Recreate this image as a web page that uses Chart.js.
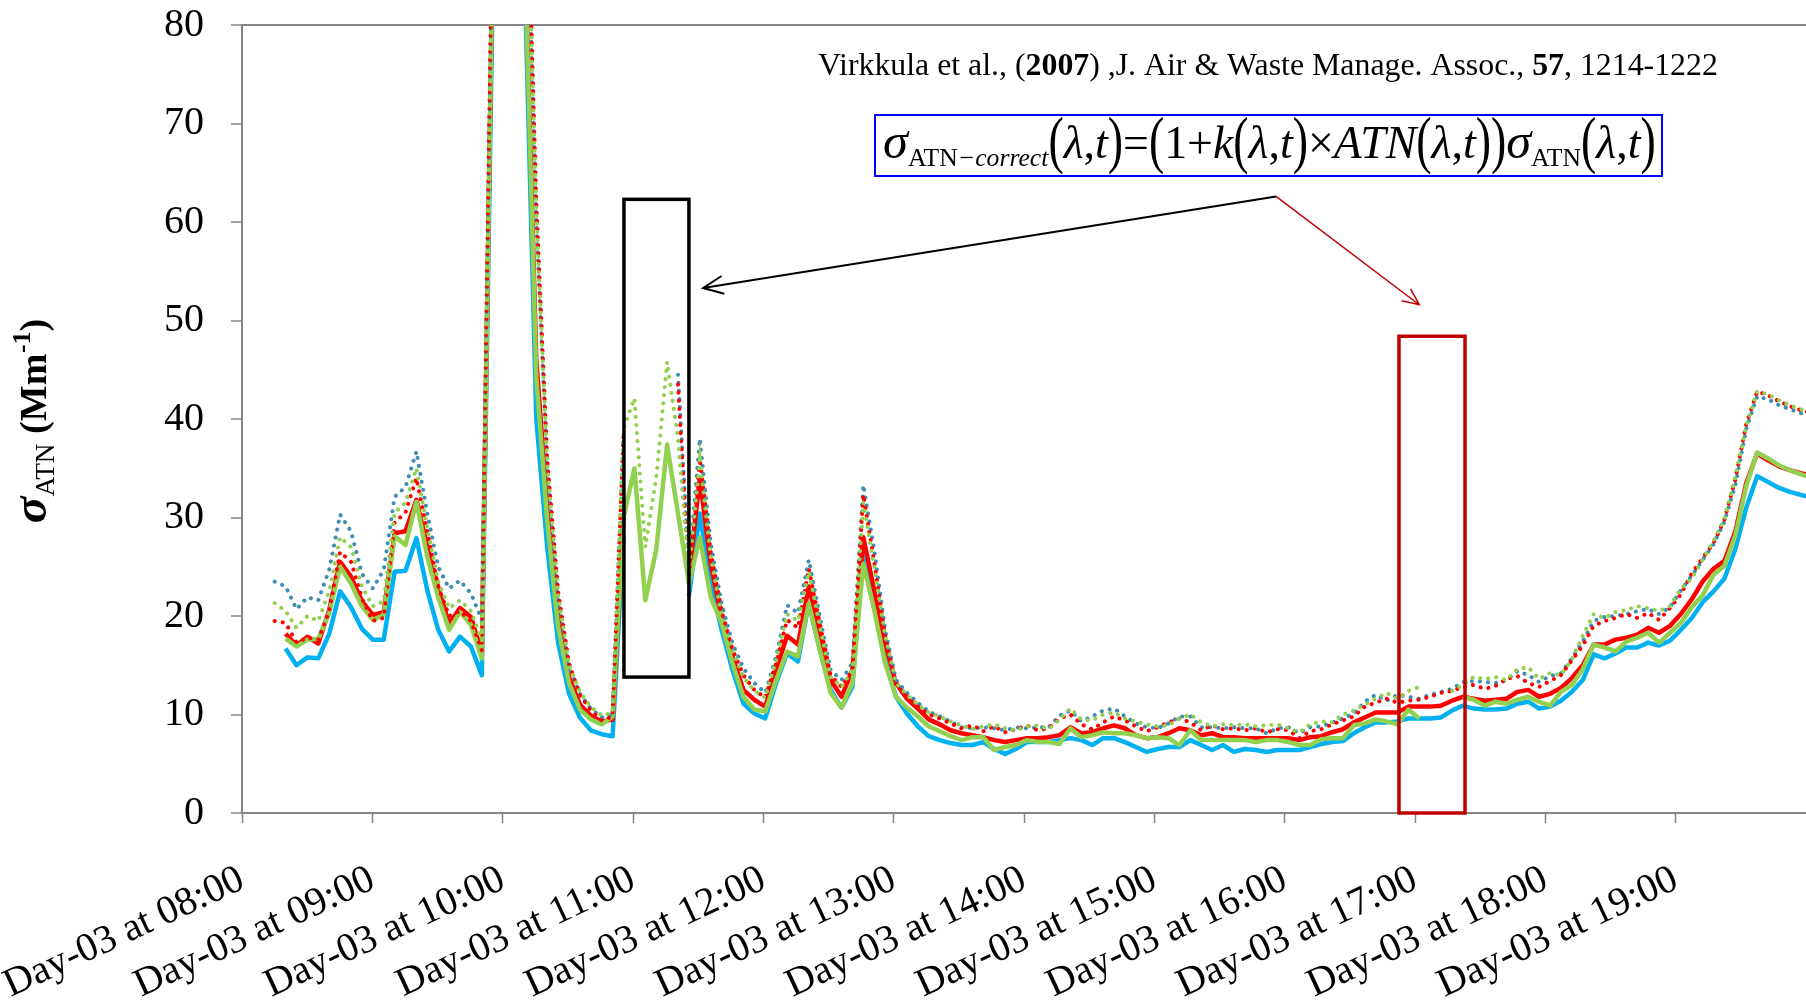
<!DOCTYPE html>
<html>
<head>
<meta charset="utf-8">
<script src="https://cdn.jsdelivr.net/npm/chart.js@4.4.0/dist/chart.umd.min.js"></script>
<style>
html, body { margin: 0; padding: 0; background: #fff; overflow: hidden; }
canvas { display: block; }
</style>
</head>
<body>
<canvas id="atnChart" width="1806" height="1006"></canvas>
<script>
// Sampling grid: minutes after 08:00, one value every 5 min
const minutes = [];
for (let m = 15; m <= 720; m += 5) minutes.push(m);

const tickLabels = ['Day-03 at 08:00', 'Day-03 at 09:00', 'Day-03 at 10:00', 'Day-03 at 11:00',
    'Day-03 at 12:00', 'Day-03 at 13:00', 'Day-03 at 14:00', 'Day-03 at 15:00',
    'Day-03 at 16:00', 'Day-03 at 17:00', 'Day-03 at 18:00', 'Day-03 at 19:00'];

// Solid lines
const blueSolid = [
    null, 16.7, 15.0, 15.8, 15.7, 18.2, 22.5, 20.9, 18.7, 17.6, 17.6, 24.5, 24.6, 27.9, 22.6, 18.6, 16.4, 17.9, 16.9, 14.0,
    84, 150, 135, 82, 40, 27, 17.3, 12.1, 9.7, 8.4, 8.0, 7.8,
    28, null, null, null, null, null, 22,
    30.4, 23.3, 18.6, 14.5, 11.1, 10.1, 9.6, 13.2, 16.2, 15.4, 21.3, 16.6, 12.5, 10.7, 12.8, 27.0, 21.3, 15.5, 11.8, 10.1, 8.8, 7.8, 7.4, 7.1,
    6.9, 6.9, 7.2, 6.5, 6.0, 6.5, 7.2, 7.2, 7.2, 7.4, 7.6, 7.4, 6.9, 7.6, 7.6, 7.2, 6.7, 6.2, 6.5, 6.7, 6.7, 7.4, 6.9, 6.4, 6.9, 6.2, 6.5, 6.4, 6.2, 6.4, 6.4, 6.4,
    6.7, 7.0, 7.2, 7.3, 8.1, 8.7, 9.2, 9.2, 9.3, 9.6, 9.6, 9.6, 9.7, 10.4, 10.9, 10.6, 10.5, 10.5, 10.6, 11.1, 11.3, 10.6, 10.8, 11.4,
    12.3, 13.5, 16.1, 15.7, 16.2, 16.8, 16.8, 17.3, 17.0, 17.5, 18.6, 19.8, 21.4, 22.5, 23.8, 26.8, 31.0, 34.2, 33.6, 33.0, 32.6, 32.3, 32.0
];
const redSolid = [
    null, 18.2, 17.0, 17.9, 17.2, 20.6, 25.5, 24.0, 21.5, 20.1, 20.4, 28.4, 28.6, 31.8, 27.0, 22.9, 19.2, 20.8, 19.9, 16.2,
    88, 150, 135, 86, 46, 31, 20, 13.8, 11.0, 9.9, 9.3, 9.5,
    30, null, null, null, null, null, 24,
    34.0, 25.3, 19.9, 15.9, 12.5, 11.5, 10.8, 14.5, 18.0, 17.1, 23.0, 18.3, 13.5, 11.8, 14.5, 28.0, 22.6, 17.2, 13.2, 11.6, 10.6, 9.5, 9.0, 8.4,
    8.1, 7.9, 7.7, 7.4, 7.2, 7.4, 7.6, 7.6, 7.7, 7.9, 8.7, 8.1, 8.2, 8.6, 8.9, 8.6, 7.9, 7.6, 7.7, 8.1, 8.6, 8.4, 7.9, 8.1, 7.7, 7.7, 7.6, 7.6, 7.6, 7.6, 7.6, 7.4,
    7.7, 7.8, 8.2, 8.5, 9.2, 9.7, 10.2, 10.2, 10.2, 10.8, 10.8, 10.8, 10.9, 11.4, 11.8, 11.6, 11.4, 11.5, 11.6, 12.3, 12.5, 11.8, 12.1, 12.7,
    13.7, 15.0, 17.1, 17.1, 17.6, 17.8, 18.1, 18.8, 18.3, 19.0, 20.2, 21.7, 23.5, 24.8, 25.6, 28.6, 33.5, 36.5, 35.8, 35.2, 34.8, 34.5, 34.2
];
const greenSolid = [
    null, 17.7, 16.9, 17.6, 17.7, 20.3, 25.0, 23.3, 21.0, 19.6, 20.1, 28.1, 27.2, 31.6, 26.0, 21.9, 18.6, 20.4, 19.1, 15.7,
    88, 150, 135, 85, 44.2, 29.7, 18.9, 13.2, 10.5, 9.5, 9.0, 9.8,
    30, 35.0, 21.6, 26.7, 37.4, 30.4, 23.3,
    28.0, 21.9, 19.3, 15.2, 11.8, 10.5, 10.3, 13.5, 16.4, 15.9, 21.3, 16.6, 12.2, 10.7, 13.2, 25.3, 20.6, 15.2, 11.8, 10.7, 9.8, 8.8, 8.3, 7.8,
    7.4, 7.7, 7.7, 6.4, 6.7, 6.9, 7.4, 7.2, 7.2, 7.0, 8.6, 7.7, 7.9, 8.2, 8.1, 8.1, 7.9, 7.6, 7.7, 7.6, 6.9, 8.4, 7.4, 7.4, 7.4, 7.4, 7.4, 7.2, 7.4, 7.4, 7.2, 6.9,
    6.9, 7.5, 7.6, 7.6, 8.9, 9.1, 9.5, 9.3, 9.0, 10.5, 9.6, null, null, null, 11.8, 11.5, 10.9, 11.3, 11.1, 11.5, 11.8, 11.3, 10.9, 12.3,
    13.0, 14.6, 17.1, 16.8, 16.4, 17.4, 17.8, 18.3, 17.3, 18.3, 19.3, 20.9, 22.1, 24.2, 25.1, 28.2, 33.2, 36.6, 36.0, 35.3, 34.8, 34.4, 34.0
];

// Dotted lines
const blueDotted = [
    23.5, 23.0, 20.7, 21.9, 21.6, 24.7, 30.3, 28.6, 24.3, 22.8, 24.7, 32.1, 33.1, 36.7, 30.4, 25.0, 22.8, 23.6, 22.3, 19.6,
    92, 155, 140, 100, 60, 35.1, 21.9, 14.8, 12.1, 10.6, 9.7, 10.0,
    38, null, null, null, null, 44.5, 25,
    38.0, 27.4, 21.3, 17.2, 14.7, 13.2, 12.2, 15.9, 21.1, 20.3, 25.7, 20.0, 14.5, 13.5, 15.2, 33.3, 26.7, 18.6, 13.5, 12.2, 11.2, 10.3, 9.8, 9.3,
    8.7, 8.6, 8.7, 8.6, 8.4, 8.7, 8.6, 8.7, 8.7, 9.9, 10.4, 9.3, 9.8, 10.4, 10.6, 9.8, 9.1, 8.7, 8.6, 9.1, 9.8, 9.8, 8.7, 8.7, 8.6, 8.7, 8.6, 8.6, 8.1, 8.6, 8.7, 8.1,
    8.7, 8.8, 9.2, 9.6, 10.1, 11.3, 12.0, 11.4, 12.0, 11.8, 11.6, 12.0, 12.3, 12.6, 13.3, 13.4, 13.3, 13.2, 13.5, 14.4, 14.0, 13.3, 13.9, 14.2,
    15.7, 17.4, 19.5, 19.9, 20.0, 20.2, 20.5, 20.7, 20.2, 20.9, 22.6, 24.1, 25.7, 27.3, 29.6, 33.3, 39.0, 42.3, 42.0, 41.4, 41.0, 40.6, 40.2
];
const redDotted = [
    19.5, 19.3, 17.3, 17.8, 17.6, 20.5, 26.5, 25.5, 21.8, 19.5, 19.8, 29.5, 30.5, 34.0, 28.5, 23.0, 20.0, 20.5, 19.5, 16.5,
    95, 155, 140, 102, 62, 36.0, 22.5, 15.2, 12.0, 10.4, 9.4, 9.8,
    38.6, null, null, null, null, 43.5, 24,
    36.0, 26.5, 20.5, 16.6, 14.0, 12.5, 11.7, 15.2, 19.6, 18.8, 24.8, 19.3, 14.0, 12.8, 14.5, 32.3, 25.5, 18.0, 13.0, 11.8, 10.8, 10.0, 9.6, 9.1,
    8.6, 8.9, 8.3, 8.8, 8.2, 8.5, 8.9, 8.4, 8.6, 9.6, 10.0, 9.0, 8.5, 9.2, 9.8, 9.4, 8.8, 8.3, 8.7, 9.2, 9.6, 9.2, 8.4, 8.9, 8.5, 8.6, 8.4, 8.6, 8.2, 8.5, 8.4, 7.6,
    8.3, 8.5, 9.0, 9.4, 9.8, 10.8, 11.2, 11.6, 11.2, 11.4, 11.5, 11.8, 12.2, 12.4, 12.8, 13.0, 12.6, 12.9, 13.6, 13.9, 13.2, 12.8, 13.4, 14.0,
    15.5, 17.0, 19.0, 19.5, 19.8, 20.2, 19.8, 20.3, 19.6, 20.8, 22.2, 24.3, 25.9, 27.4, 29.8, 33.9, 39.5, 42.8, 42.4, 41.8, 41.3, 40.9, 40.6
];
const greenDotted = [
    21.3, 20.5, 18.8, 20.0, 19.5, 22.5, 28.0, 27.0, 23.0, 21.0, 21.5, 30.5, 31.5, 35.0, 29.0, 23.5, 20.8, 21.6, 20.5, 17.5,
    90, 155, 140, 101, 61, 35.5, 22.2, 15.0, 12.3, 10.8, 9.9, 10.2,
    39, 42.1, 27, 34, 45.8, 38, 24.5,
    35.8, 26.0, 20.0, 16.5, 13.8, 12.4, 11.7, 15.5, 20.2, 19.5, 24.5, 19.0, 13.8, 12.8, 14.5, 31.5, 25.0, 18.0, 13.2, 12.0, 11.0, 10.2, 9.8, 9.3,
    8.9, 8.5, 8.8, 9.0, 8.6, 8.4, 8.8, 8.9, 8.5, 9.5, 10.6, 9.5, 9.4, 10.0, 10.2, 9.6, 9.3, 9.0, 8.8, 8.9, 9.6, 10.0, 9.2, 8.8, 9.0, 8.9, 9.0, 8.8, 8.9, 9.0, 8.6, 8.2,
    9.0, 9.3, 9.2, 10.0, 10.4, 11.0, 11.6, 12.2, 11.6, 12.4, 12.8, null, null, 12.4, 13.0, 13.8, 13.6, 13.8, 13.5, 14.6, 14.8, 13.6, 14.2, 14.0,
    15.6, 18.0, 20.2, 19.8, 20.4, 20.6, 21.0, 20.8, 20.5, 21.0, 22.8, 23.8, 25.7, 27.6, 29.9, 34.2, 39.3, 42.8, 42.5, 41.9, 41.4, 41.0, 40.7
];

const FONT = "'Liberation Serif', 'Times New Roman', serif";
const AXIS_GREY = '#868686';

function toPoints(values) {
    return minutes.map((m, i) => ({ x: m, y: values[i] }));
}

function solid(label, values, color, order) {
    return { label, data: toPoints(values), borderColor: color, borderWidth: 4.5,
        borderJoinStyle: 'round', pointRadius: 0, tension: 0, order };
}
function dotted(label, values, color, order) {
    return { label, data: toPoints(values), borderColor: color, borderWidth: 4,
        borderDash: [0.1, 8], borderCapStyle: 'round', pointRadius: 0, tension: 0, order };
}

// Helpers for mixed-style text runs
function drawRuns(ctx, runs, x, y, size) {
    let cx = x;
    runs.forEach(r => {
        ctx.font = (r.s || '') + ' ' + (size * (r.k || 1)) + 'px ' + FONT;
        ctx.save();
        ctx.translate(cx, y + (r.dy || 0) * size);
        ctx.scale(1, r.vs || 1);
        ctx.fillText(r.t, 0, 0);
        ctx.restore();
        cx += ctx.measureText(r.t).width + (r.gap || 0) * size;
    });
    return cx - x;
}
function runsWidth(ctx, runs, size) {
    let w = 0;
    runs.forEach(r => {
        ctx.font = (r.s || '') + ' ' + (size * (r.k || 1)) + 'px ' + FONT;
        w += ctx.measureText(r.t).width + (r.gap || 0) * size;
    });
    return w;
}
function arrow(ctx, x1, y1, x2, y2, color, width, head) {
    const a = Math.atan2(y2 - y1, x2 - x1);
    ctx.strokeStyle = color;
    ctx.lineWidth = width;
    ctx.beginPath();
    ctx.moveTo(x1, y1);
    ctx.lineTo(x2, y2);
    ctx.moveTo(x2 - head * Math.cos(a - 0.42), y2 - head * Math.sin(a - 0.42));
    ctx.lineTo(x2, y2);
    ctx.lineTo(x2 - head * Math.cos(a + 0.42), y2 - head * Math.sin(a + 0.42));
    ctx.stroke();
}

const paren = (t) => ({ t, vs: 1.4, dy: 0.06 });
const lamT = [paren('('), { t: 'λ', s: 'italic' }, { t: ',' }, { t: 't', s: 'italic' }, paren(')')];
const formulaRuns = [
    { t: 'σ', s: 'italic', k: 1.1 }, { t: 'ATN', k: 0.56, dy: 0.18 }, { t: '−correct', s: 'italic', k: 0.56, dy: 0.18 },
    ...lamT, { t: '=' }, paren('('), { t: '1+' }, { t: 'k', s: 'italic' }, ...lamT,
    { t: '×' }, { t: 'ATN', s: 'italic' }, ...lamT, paren(')'),
    { t: 'σ', s: 'italic', k: 1.1 }, { t: 'ATN', k: 0.56, dy: 0.18 }, ...lamT
];
const citationRuns = [
    { t: 'Virkkula et al., (' }, { t: '2007', s: 'bold' }, { t: ') ,J. Air & Waste Manage. Assoc., ' },
    { t: '57', s: 'bold' }, { t: ', 1214-1222' }
];
const yTitleRuns = [
    { t: 'σ', s: 'bold italic', k: 1.3 }, { t: 'ATN', k: 0.72, dy: 0.22 }, { t: ' (Mm', s: 'bold', gap: 0.02 },
    { t: '-1', s: 'bold', k: 0.68, dy: -0.42 }, { t: ')', s: 'bold' }
];

const annotations = {
    id: 'annotations',
    afterDraw(chart) {
        const ctx = chart.ctx;
        const xs = chart.scales.x, ys = chart.scales.y;
        const px = v => xs.getPixelForValue(v);
        const py = v => ys.getPixelForValue(v);
        ctx.save();
        ctx.fillStyle = '#000';
        ctx.textBaseline = 'alphabetic';
        ctx.textAlign = 'left';

        // y axis title
        ctx.save();
        ctx.translate(46, 421);
        ctx.rotate(-Math.PI / 2);
        const tw = runsWidth(ctx, yTitleRuns, 38);
        drawRuns(ctx, yTitleRuns, -tw / 2, 0, 38);
        ctx.restore();

        // citation
        let s = 28 * 900 / runsWidth(ctx, citationRuns, 28);
        drawRuns(ctx, citationRuns, 818, 75, s);

        // formula box
        ctx.strokeStyle = '#0000FF';
        ctx.lineWidth = 2;
        ctx.strokeRect(875, 115, 787, 61);
        s = 40 * 773 / runsWidth(ctx, formulaRuns, 40);
        drawRuns(ctx, formulaRuns, 883, 158, s);

        // highlight boxes
        ctx.lineWidth = 3.5;
        ctx.strokeStyle = '#000';
        ctx.strokeRect(px(175.2), py(62.3), px(205) - px(175.2), py(13.8) - py(62.3));
        ctx.strokeStyle = '#C00000';
        ctx.strokeRect(px(530.7), py(48.4), px(561) - px(530.7), py(0) - py(48.4));

        // arrows from the formula box
        arrow(ctx, px(474.3), py(62.6), px(211.5), py(53.3), '#000', 2, 22);
        arrow(ctx, px(474.3), py(62.6), px(540), py(51.6), '#C00000', 1.5, 18);
        ctx.restore();
    }
};

const chart = new Chart(document.getElementById('atnChart').getContext('2d'), {
    type: 'line',
    data: {
        datasets: [
            dotted('Blue (corrected)', blueDotted, '#3E8DB5', 3),
            dotted('Red (corrected)', redDotted, '#FF0000', 2),
            dotted('Green (corrected)', greenDotted, '#92D050', 1),
            solid('Blue', blueSolid, '#00B0F0', 6),
            solid('Red', redSolid, '#FF0000', 5),
            solid('Green', greenSolid, '#92D050', 4)
        ]
    },
    options: {
        responsive: false,
        animation: false,
        events: [],
        layout: { padding: { top: 25, right: 0, bottom: 0, left: 0 } },
        plugins: { legend: { display: false }, tooltip: { enabled: false } },
        scales: {
            x: {
                type: 'linear', min: 0, max: 717.4,
                border: { color: AXIS_GREY, width: 2 },
                grid: { drawOnChartArea: false, tickLength: 10, tickColor: AXIS_GREY, tickWidth: 1.5 },
                ticks: {
                    stepSize: 60, includeBounds: false, autoSkip: false,
                    minRotation: 25, maxRotation: 25, padding: 33,
                    color: '#000', font: { family: FONT, size: 40 },
                    callback: v => tickLabels[Math.round(v / 60)]
                },
                afterFit: s => { s.height = 193; s.paddingLeft = 0; s.paddingRight = 0; }
            },
            y: {
                min: 0, max: 80,
                border: { color: AXIS_GREY, width: 2 },
                grid: {
                    color: c => (c.tick && c.tick.value === 80) ? AXIS_GREY : 'rgba(0,0,0,0)',
                    lineWidth: 2, tickLength: 11, tickColor: AXIS_GREY, tickWidth: 1.5
                },
                ticks: { stepSize: 10, padding: 27, color: '#000', font: { family: FONT, size: 40 } },
                afterFit: s => { s.width = 242; s.paddingTop = 0; s.paddingBottom = 0; }
            }
        }
    },
    plugins: [annotations]
});
</script>
</body>
</html>
